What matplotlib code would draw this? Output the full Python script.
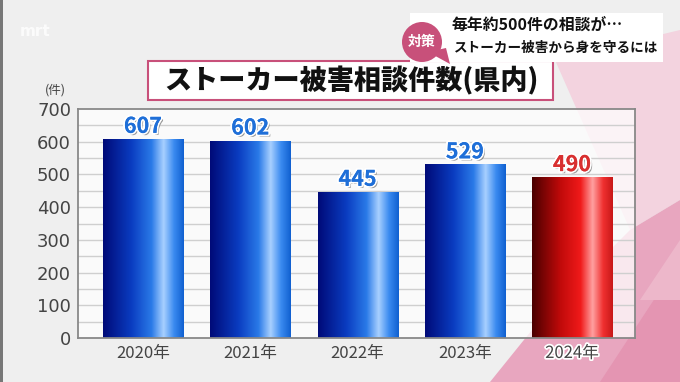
import matplotlib
matplotlib.use('Agg')
from matplotlib import pyplot as plt
from matplotlib.colors import LinearSegmentedColormap
from matplotlib.patches import Rectangle, Polygon, Circle
import matplotlib.patheffects as pe
import numpy as np

plt.rcParams['font.family'] = ['Noto Sans CJK JP', 'DejaVu Sans']

years = ['2020年', '2021年', '2022年', '2023年', '2024年']
counts = [607, 602, 445, 529, 490]
yticks = [0, 100, 200, 300, 400, 500, 600, 700]

blue_cmap = LinearSegmentedColormap.from_list(
    'blue', [(0, '#000a78'), (0.35, '#0a3cc0'), (0.6, '#2a7ae8'), (0.75, '#a8d0ff'), (0.88, '#3a8af0'), (1, '#1060d0')])
red_cmap = LinearSegmentedColormap.from_list(
    'red', [(0, '#4a0000'), (0.35, '#c00a0a'), (0.6, '#f01a1a'), (0.75, '#ffa0a0'), (0.88, '#f03030'), (1, '#c81818')])

fig = plt.figure(figsize=(6.8, 3.82), dpi=100)
fig.patch.set_facecolor('#efefef')

# pink decoration on the right
bg = fig.add_axes([0, 0, 1, 1])
bg.set_xlim(0, 680)
bg.set_ylim(382, 0)
bg.axis('off')
bg.add_patch(Polygon([[555, 60], [680, 30], [680, 200], [630, 230]], closed=True, color='#f3d3df', lw=0))
bg.add_patch(Polygon([[490, 382], [540, 320], [630, 230], [680, 200], [680, 382]], closed=True,
                     color='#e8a6bf', lw=0))
bg.add_patch(Polygon([[600, 382], [680, 260], [680, 382]], closed=True, color='#e495b2', lw=0))
bg.add_patch(Polygon([[640, 300], [680, 240], [680, 300]], closed=True, color='#edb7ca', lw=0))
bg.add_patch(Rectangle((0, 0), 3, 382, color='#777777', lw=0))
bg.text(35, 31, 'mrt', fontsize=11, fontweight='bold', color='white', alpha=0.8,
        ha='center', va='center', family='DejaVu Sans')

ax = fig.add_axes([78 / 680, 1 - 338 / 382, 557 / 680, 229 / 382])
ax.set_facecolor((1, 1, 1, 0.75))
x = np.arange(len(years))
w = 0.746

for v in range(50, 700, 50):
    ax.axhline(v, color='#cfcfcf', lw=1, zorder=1)

grad = np.linspace(0, 1, 256).reshape(1, -1)
for i, (xi, c) in enumerate(zip(x, counts)):
    cmap = red_cmap if i == len(counts) - 1 else blue_cmap
    ax.imshow(grad, cmap=cmap, aspect='auto', extent=(xi - w / 2, xi + w / 2, 0, c), zorder=2)
    color = '#d83030' if i == len(counts) - 1 else '#1f6fd8'
    ax.text(xi, c + 8, str(c), ha='center', va='bottom', fontsize=15.5, fontweight='bold',
            color=color, zorder=4,
            path_effects=[pe.withStroke(linewidth=2.5, foreground='white'),
                          pe.SimplePatchShadow(offset=(1.5, -1.5), shadow_rgbFace='#555555', alpha=0.6),
                          pe.withStroke(linewidth=2.5, foreground='white'), pe.Normal()])
ax.set_xlim(-0.606, 4.587)
ax.set_ylim(0, 700)

ax.set_yticks(yticks)
ax.set_yticklabels([str(t) for t in yticks], fontsize=13, color='#444444', family='DejaVu Sans')
ax.set_xticks(x)
ax.set_xticklabels(years, fontsize=12, color='#444444')
for lbl in ax.get_xticklabels()[-1:]:
    lbl.set_path_effects([pe.withStroke(linewidth=2.5, foreground='white')])
ax.tick_params(length=0, pad=5)
for s in ax.spines.values():
    s.set_color('#888888')
    s.set_linewidth(1.3)

fig.text(55 / 680, 1 - 90 / 382, '(件)', fontsize=9, color='#444444', ha='center', va='center')

# title box
bg.add_patch(Rectangle((148, 61), 405, 39, facecolor='white', edgecolor='#c8507a', lw=1.5))
bg.text(352, 81, 'ストーカー被害相談件数(県内)', fontsize=19.5, fontweight='black',
        color='#111111', ha='center', va='center')

# top right caption
bg.add_patch(Rectangle((410, 13), 253, 49, facecolor='white', edgecolor='none'))
bg.text(451, 25, '毎年約500件の相談が…', fontsize=11.4, fontweight='bold', color='#111111',
        ha='left', va='center')
bg.text(454, 48, 'ストーカー被害から身を守るには', fontsize=9.8, fontweight='bold', color='#111111',
        ha='left', va='center')
bg.add_patch(Polygon([[428, 52], [446, 48], [450, 64]], closed=True, color='#c8507a', lw=0))
bg.add_patch(Circle((422, 42), 20, color='#c8507a', lw=0))
bg.text(422, 42, '対策', fontsize=10, fontweight='bold', color='white', ha='center', va='center')

fig.savefig('out.png', dpi=100, facecolor=fig.get_facecolor())
